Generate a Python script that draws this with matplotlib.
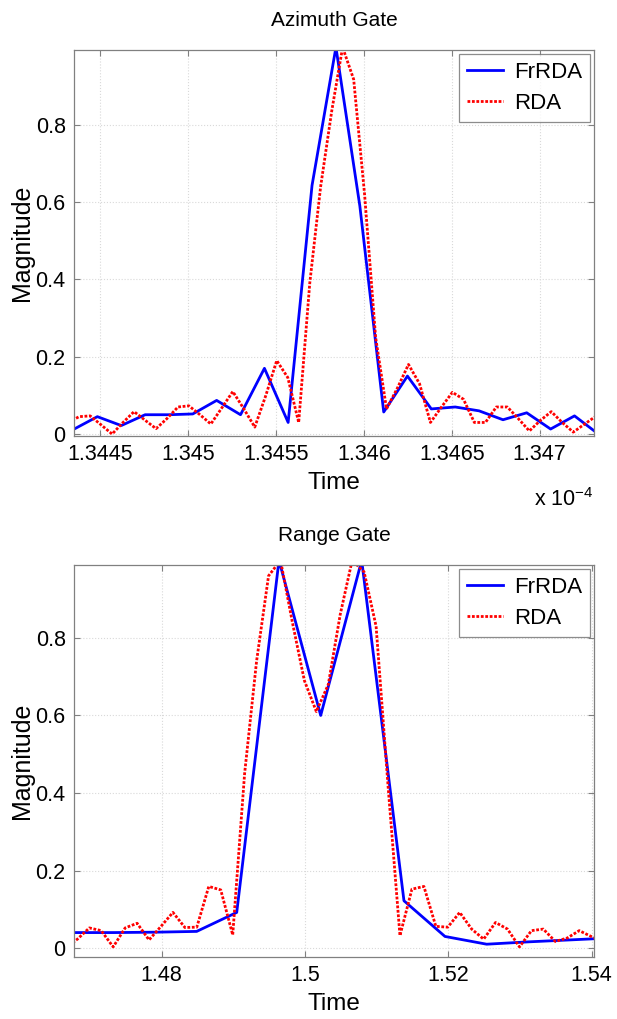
import matplotlib
matplotlib.use("Agg")
import matplotlib.pyplot as plt

plt.rcParams['font.family'] = ['Liberation Sans', 'DejaVu Sans']

# ---------------- Azimuth gate (time in units of 1e-4) ----------------
az_t_frrda = [1.344347, 1.344483, 1.344619, 1.344755, 1.344890, 1.345026,
              1.345162, 1.345298, 1.345434, 1.345569, 1.345705, 1.345841,
              1.345977, 1.346113, 1.346248, 1.346384, 1.346520, 1.346656,
              1.346792, 1.346927, 1.347063, 1.347199, 1.347335]
az_m_frrda = [0.012, 0.045, 0.022, 0.050, 0.050, 0.052, 0.087, 0.050, 0.170,
              0.030, 0.643, 1.000, 0.590, 0.057, 0.150, 0.065, 0.070, 0.060,
              0.037, 0.055, 0.013, 0.047, 0.000]

az_t_rda = [1.344317, 1.344379, 1.344442, 1.344504, 1.344567, 1.344629,
            1.344692, 1.344754, 1.344817, 1.344879, 1.344942, 1.345004,
            1.345067, 1.345129, 1.345192, 1.345254, 1.345317, 1.345379,
            1.345442, 1.345504, 1.345567, 1.345629, 1.345692, 1.345754,
            1.345817, 1.345879, 1.345942, 1.346004, 1.346067, 1.346129,
            1.346192, 1.346254, 1.346317, 1.346379, 1.346442, 1.346504,
            1.346567, 1.346629, 1.346692, 1.346754, 1.346817, 1.346879,
            1.346942, 1.347004, 1.347067, 1.347129, 1.347192, 1.347254,
            1.347317]
az_m_rda = [0.030, 0.045, 0.047, 0.024, 0.000, 0.030, 0.058, 0.036, 0.014,
            0.040, 0.070, 0.073, 0.050, 0.026, 0.068, 0.110, 0.065, 0.018,
            0.100, 0.190, 0.146, 0.030, 0.390, 0.640, 0.835, 1.000, 0.917,
            0.620, 0.250, 0.065, 0.120, 0.180, 0.130, 0.030, 0.070, 0.108,
            0.090, 0.030, 0.030, 0.070, 0.070, 0.040, 0.008, 0.035, 0.058,
            0.030, 0.005, 0.025, 0.045]

az_xticks = [1.3445, 1.345, 1.3455, 1.346, 1.3465, 1.347]
az_xticklabels = ['1.3445', '1.345', '1.3455', '1.346', '1.3465', '1.347']

# ---------------- Range gate ----------------
rg_t_frrda = [1.46758, 1.47334, 1.47912, 1.48488, 1.49047, 1.49637, 1.50219,
              1.50791, 1.51381, 1.51953, 1.52535, 1.53112, 1.53688, 1.54266]
rg_m_frrda = [0.040, 0.040, 0.041, 0.043, 0.092, 1.000, 0.600, 1.000, 0.122,
              0.030, 0.010, 0.016, 0.021, 0.026]

rg_t_rda = [1.46656, 1.46823, 1.46990, 1.47156, 1.47323, 1.47490, 1.47657,
            1.47823, 1.47990, 1.48157, 1.48324, 1.48490, 1.48657, 1.48824,
            1.48991, 1.49157, 1.49324, 1.49491, 1.49658, 1.49824, 1.49991,
            1.50158, 1.50325, 1.50491, 1.50658, 1.50825, 1.50992, 1.51158,
            1.51325, 1.51492, 1.51659, 1.51826, 1.51992, 1.52159, 1.52326,
            1.52493, 1.52659, 1.52826, 1.52993, 1.53160, 1.53326, 1.53493,
            1.53660, 1.53827, 1.53993, 1.54160]
rg_m_rda = [0.000, 0.023, 0.052, 0.045, 0.003, 0.052, 0.064, 0.021, 0.056,
            0.092, 0.053, 0.054, 0.159, 0.150, 0.034, 0.450, 0.740, 0.960,
            1.000, 0.840, 0.690, 0.610, 0.680, 0.860, 1.000, 0.970, 0.830,
            0.420, 0.032, 0.152, 0.159, 0.056, 0.054, 0.092, 0.049, 0.023,
            0.066, 0.049, 0.003, 0.045, 0.049, 0.017, 0.026, 0.045, 0.030,
            0.020]

rg_xticks = [1.48, 1.50, 1.52, 1.54]
rg_xticklabels = ['1.48', '1.5', '1.52', '1.54']

yticks = [0, 0.2, 0.4, 0.6, 0.8]
yticklabels = ['0', '0.2', '0.4', '0.6', '0.8']

series_names = ['FrRDA', 'RDA']

W, H = 617, 1019
fig = plt.figure(figsize=(W / 100, H / 100), dpi=100)


def style_axes(ax, title, xticks, xticklabels, xlim, ylim):
    ax.set_xlim(*xlim)
    ax.set_ylim(*ylim)
    ax.set_xticks(xticks)
    ax.set_xticklabels(xticklabels)
    ax.set_yticks(yticks)
    ax.set_yticklabels(yticklabels)
    ax.grid(True, color='#d9d9d9', linestyle=':', linewidth=0.8)
    ax.set_axisbelow(True)
    ax.tick_params(direction='in', top=True, right=True, length=4,
                   color='#808080', labelsize=15.5, pad=6)
    for sp in ax.spines.values():
        sp.set_color('#808080')
        sp.set_linewidth(0.9)
    ax.set_title(title, fontsize=15, pad=17)
    ax.set_xlabel('Time', fontsize=17.5, labelpad=5)
    ax.set_ylabel('Magnitude', fontsize=18, labelpad=1)
    leg = ax.legend(loc='upper right', fontsize=16, frameon=True, fancybox=False,
                    handlelength=1.6, borderaxespad=0.2, handletextpad=0.5,
                    borderpad=0.35, labelspacing=0.45)
    leg.get_frame().set_edgecolor('#707070')
    leg.get_frame().set_linewidth(0.9)


ax1 = fig.add_axes([74 / W, 1 - 436 / H, 520 / W, 386 / H])
ax1.plot(az_t_frrda, az_m_frrda, color='#0000ff', lw=2.0, label=series_names[0])
ax1.plot(az_t_rda, az_m_rda, color='#ff0000', lw=2.0, linestyle=(0, (1, 0.6)),
         label=series_names[1])
style_axes(ax1, 'Azimuth Gate', az_xticks, az_xticklabels,
           (1.34435, 1.34731), (-0.005, 0.993))
ax1.text(1.0, -0.135, r'x 10$^{\mathregular{-4}}$', transform=ax1.transAxes,
         ha='right', va='top', fontsize=15.5)

ax2 = fig.add_axes([74 / W, 1 - 957 / H, 520 / W, 392 / H])
ax2.plot(rg_t_frrda, rg_m_frrda, color='#0000ff', lw=2.0, label=series_names[0])
ax2.plot(rg_t_rda, rg_m_rda, color='#ff0000', lw=2.0, linestyle=(0, (1, 0.6)),
         label=series_names[1])
style_axes(ax2, 'Range Gate', rg_xticks, rg_xticklabels,
           (1.46776, 1.54033), (-0.023, 0.988))

fig.savefig('out.png', dpi=100)
